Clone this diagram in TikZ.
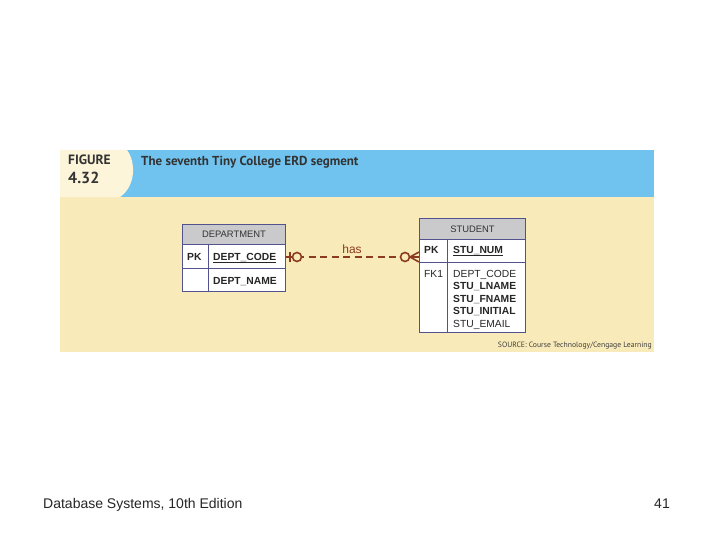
\documentclass[tikz,border=0pt]{standalone}
\usepackage{fontspec}
\setmainfont{Liberation Sans}
\newfontfamily\figfont{PT Sans}
\begin{document}
\begin{tikzpicture}[x=1pt,y=-1pt,
  tbl/.style={draw=tblc, line width=0.9pt, fill=white, inner sep=0pt, anchor=north west},
  hdr/.style={draw=tblc, line width=0.9pt, fill=hdrc, inner sep=0pt, anchor=north west},
  ttxt/.style={font=\fontsize{10.3}{11}\selectfont, text=black!85, inner sep=0pt, anchor=base west},
  btxt/.style={font=\fontsize{10.3}{11}\selectfont\bfseries, text=black!85, inner sep=0pt, anchor=base west},
  rel/.style={draw=relc, line width=1.6pt},
]
\definecolor{bluec}{HTML}{6FC3EE}
\definecolor{creamc}{HTML}{F8EAB9}
\definecolor{tabc}{HTML}{FCF5DA}
\definecolor{tblc}{HTML}{52528E}
\definecolor{hdrc}{HTML}{CACACC}
\definecolor{relc}{HTML}{8C3B22}
\useasboundingbox (0,0) rectangle (720,540);
\fill[white] (0,0) rectangle (720,540);
% panel
\fill[creamc] (60,197) rectangle (654,352);
\fill[bluec] (60,150) rectangle (654,197);
\fill[tabc] (60,150) -- (127,150) .. controls (136,162) and (136,186) .. (120,197) -- (60,197) -- cycle;
\node[font=\figfont\fontsize{13.5}{14}\selectfont\bfseries, text=black!80, anchor=base west, inner sep=0pt] (fig) at (68,165) {FIGURE};
\node[font=\figfont\fontsize{16}{16}\selectfont\bfseries, text=black!80, anchor=base west, inner sep=0pt] (num) at (68,184) {4.32};
\node[font=\figfont\fontsize{13}{14}\selectfont\bfseries, text=black!80, anchor=base west, inner sep=0pt] (title) at (141,166) {The seventh Tiny College ERD segment};
\node[font=\figfont\fontsize{7.7}{8}\selectfont, text=black!75, anchor=base east, inner sep=0pt] (src) at (652,347) {SOURCE: Course Technology/Cengage Learning};
% DEPARTMENT
\node[hdr, minimum width=103pt, minimum height=20pt] (dhdr) at (182,224) {};
\node[tbl, minimum width=103pt, minimum height=24pt] (dpk) at (182,244) {};
\node[tbl, minimum width=103pt, minimum height=23pt] (dbody) at (182,268) {};
\draw[tblc, line width=0.9pt] (208,244) -- (208,291);
\node[font=\fontsize{9.4}{10}\selectfont, text=black!80, inner sep=0pt] (dname) at (dhdr.center) {DEPARTMENT};
\node[btxt] (dpkl) at (187,260) {PK};
\node[btxt] (dcode) at (213,260) {\underline{DEPT\_CODE}};
\node[btxt] (dnm) at (213,284) {DEPT\_NAME};
% STUDENT
\node[hdr, minimum width=106pt, minimum height=21pt] (shdr) at (419,218) {};
\node[tbl, minimum width=106pt, minimum height=23pt] (spk) at (419,239) {};
\node[tbl, minimum width=106pt, minimum height=70pt] (sbody) at (419,262) {};
\draw[tblc, line width=0.9pt] (447,239) -- (447,332);
\node[font=\fontsize{9.4}{10}\selectfont, text=black!80, inner sep=0pt] (sname) at (shdr.center) {STUDENT};
\node[btxt] (spkl) at (424,253) {PK};
\node[btxt] (snum) at (453,253) {\underline{STU\_NUM}};
\node[ttxt] (sfk) at (424,277) {FK1};
\node[ttxt] (s1) at (453,277) {DEPT\_CODE};
\node[btxt] (s2) at (453,289.5) {STU\_LNAME};
\node[btxt] (s3) at (453,302) {STU\_FNAME};
\node[btxt] (s4) at (453,314.5) {STU\_INITIAL};
\node[ttxt] (s5) at (453,327) {STU\_EMAIL};
% relationship
\coordinate (ra) at (dpk.east |- 0,257);
\coordinate (rb) at (spk.west |- 0,257);
\coordinate (c1) at (297,257);
\coordinate (c2) at (405,257);
\coordinate (cf) at (410,257);
\draw[rel, dash pattern=on 7pt off 4.5pt] (c1) -- (c2);
\draw[rel] (ra) -- (c1);
\draw[rel] (290,252) -- (290,262);
\draw[rel, fill=creamc] (c1) circle (4.5pt);
\draw[rel, fill=creamc] (c2) circle (4.5pt);
\draw[rel] (cf) -- (rb);
\draw[rel] (cf) -- ([yshift=-5pt]rb);
\draw[rel] (cf) -- ([yshift=5pt]rb);
\node[font=\fontsize{12}{12}\selectfont, text=relc, inner sep=0pt] (has) at (352,249) {has};
% footer
\node[font=\fontsize{14}{15}\selectfont, text=black!85, anchor=base west, inner sep=0pt] (foot) at (43,508) {Database Systems, 10th Edition};
\node[font=\fontsize{14}{15}\selectfont, text=black!85, anchor=base east, inner sep=0pt] (page) at (670,508) {41};
\end{tikzpicture}
\end{document}
